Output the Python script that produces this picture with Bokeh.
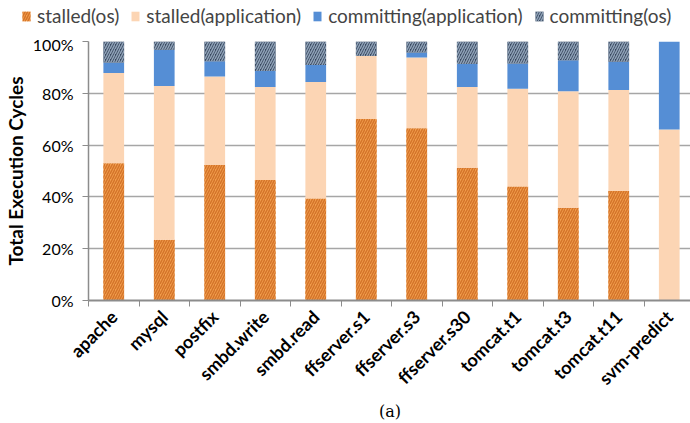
import math
from bokeh.plotting import figure
from bokeh.layouts import column, row
from bokeh.models import ColumnDataSource, FixedTicker, Legend, LegendItem, Title
from bokeh.transform import stack
from bokeh.embed import file_html
from bokeh.resources import INLINE

categories = ["apache", "mysql", "postfix", "smbd.write", "smbd.read", "ffserver.s1",
              "ffserver.s3", "ffserver.s30", "tomcat.t1", "tomcat.t3", "tomcat.t11", "svm-predict"]
stalled_os = [53.0, 23.5, 52.3, 46.5, 39.4, 70.1, 66.5, 51.3, 44.0, 35.8, 42.3, 0.0]
stalled_app = [34.8, 59.3, 34.2, 35.9, 45.0, 24.3, 27.3, 31.1, 37.8, 45.0, 39.0, 66.0]
committing_app = [4.1, 14.0, 5.9, 6.2, 6.5, 0.0, 2.0, 8.9, 9.7, 12.0, 10.9, 34.0]
committing_os = [8.1, 3.2, 7.6, 11.4, 9.1, 5.6, 4.2, 8.7, 8.5, 7.2, 7.8, 0.0]
y_ticks = [0, 20, 40, 60, 80, 100]
series_names = ["stalled(os)", "stalled(application)", "committing(application)", "committing(os)"]

positions = [i + 0.5 for i in range(len(categories))]
source = ColumnDataSource(dict(x=positions, sos=stalled_os, sapp=stalled_app,
                               capp=committing_app, cos=committing_os))

FONT = "Lato"
GRAY = "#8c8c8c"

styles = [
    dict(fill_color="#F29E4C", line_color=None, hatch_pattern="/", hatch_color="#D4742A",
         hatch_scale=5, hatch_weight=1.5),
    dict(fill_color="#FCD5B4", line_color=None),
    dict(fill_color="#558ED5", line_color=None),
    dict(fill_color="#3A4A60", line_color=None, hatch_pattern="/", hatch_color="#8FA2B8",
         hatch_scale=5, hatch_weight=1.5),
]
stacks = [("sos",), ("sos", "sapp"), ("sos", "sapp", "capp"), ("sos", "sapp", "capp", "cos")]
bw = 0.41


def draw_bars(fig):
    out = []
    for i, st in enumerate(stacks):
        bottom = stack(*stacks[i - 1]) if i > 0 else 0
        out.append(fig.vbar(x="x", width=bw, bottom=bottom, top=stack(*st),
                            source=source, **styles[i]))
    return out


FRAME_W = 603
p = figure(frame_width=FRAME_W, frame_height=259, output_backend="svg", toolbar_location=None,
           x_range=(0, FRAME_W / 50.5), y_range=(0, 100),
           min_border_left=87, min_border_right=0, min_border_top=7, min_border_bottom=0)
p.outline_line_color = None
draw_bars(p)

# axes
xa = p.xaxis[0]
xa.ticker = FixedTicker(ticks=positions, minor_ticks=list(range(len(categories) + 1)))
xa.major_label_overrides = {pos: c for pos, c in zip(positions, categories)}
xa.major_label_orientation = math.pi / 4
xa.major_label_text_font = FONT
xa.major_label_text_font_style = "bold"
xa.major_label_text_font_size = "18px"
xa.major_label_text_color = "black"
xa.major_tick_line_color = None
xa.minor_tick_line_color = GRAY
xa.minor_tick_out = 6
xa.minor_tick_in = 0
xa.axis_line_color = GRAY
xa.axis_line_width = 2
xa.major_label_standoff = 7

ya = p.yaxis[0]
ya.ticker = FixedTicker(ticks=y_ticks, minor_ticks=[])
ya.major_label_overrides = {t: f"{t}%" for t in y_ticks}
ya.major_label_text_font = FONT
ya.major_label_text_font_size = "16px"
ya.major_label_text_color = "black"
ya.major_tick_line_color = GRAY
ya.major_tick_out = 6
ya.major_tick_in = 0
ya.major_label_standoff = 9
ya.axis_line_color = GRAY
ya.axis_line_width = 1.5
ya.axis_label = "Total Execution Cycles"
ya.axis_label_text_font = FONT
ya.axis_label_text_font_style = "bold"
ya.axis_label_text_font_size = "19px"
ya.axis_label_text_color = "black"
ya.axis_label_standoff = 3

p.xgrid.grid_line_color = None
p.ygrid.ticker = FixedTicker(ticks=y_ticks)
p.ygrid.grid_line_color = "#a6a6a6"
p.ygrid.grid_line_width = 1.5

p.add_layout(Title(text="(a)", align="center", text_font="DejaVu Serif",
                   text_font_size="16px", text_font_style="normal", text_color="black",
                   standoff=0), "below")

# legend strip on top (proxy bars drawn far outside its visible y range)
lf = figure(width=690, height=34, output_backend="svg", toolbar_location=None,
            x_range=(0, 1), y_range=(1000, 1001), min_border=0,
            x_axis_location=None, y_axis_location=None)
lf.grid.visible = False
lf.outline_line_color = None
lrs = draw_bars(lf)
legend = Legend(items=[LegendItem(label=n, renderers=[r]) for n, r in zip(series_names, lrs)],
                orientation="horizontal", location=(21, 7),
                label_text_font=FONT, label_text_font_size="19px",
                glyph_width=10, glyph_height=12, spacing=11, padding=0, margin=0,
                border_line_color=None, background_fill_alpha=0, label_standoff=6)
lf.add_layout(legend, "center")

layout = column(row(lf, spacing=0), p, spacing=0)
open("out.html", "w").write(file_html(layout, INLINE))
